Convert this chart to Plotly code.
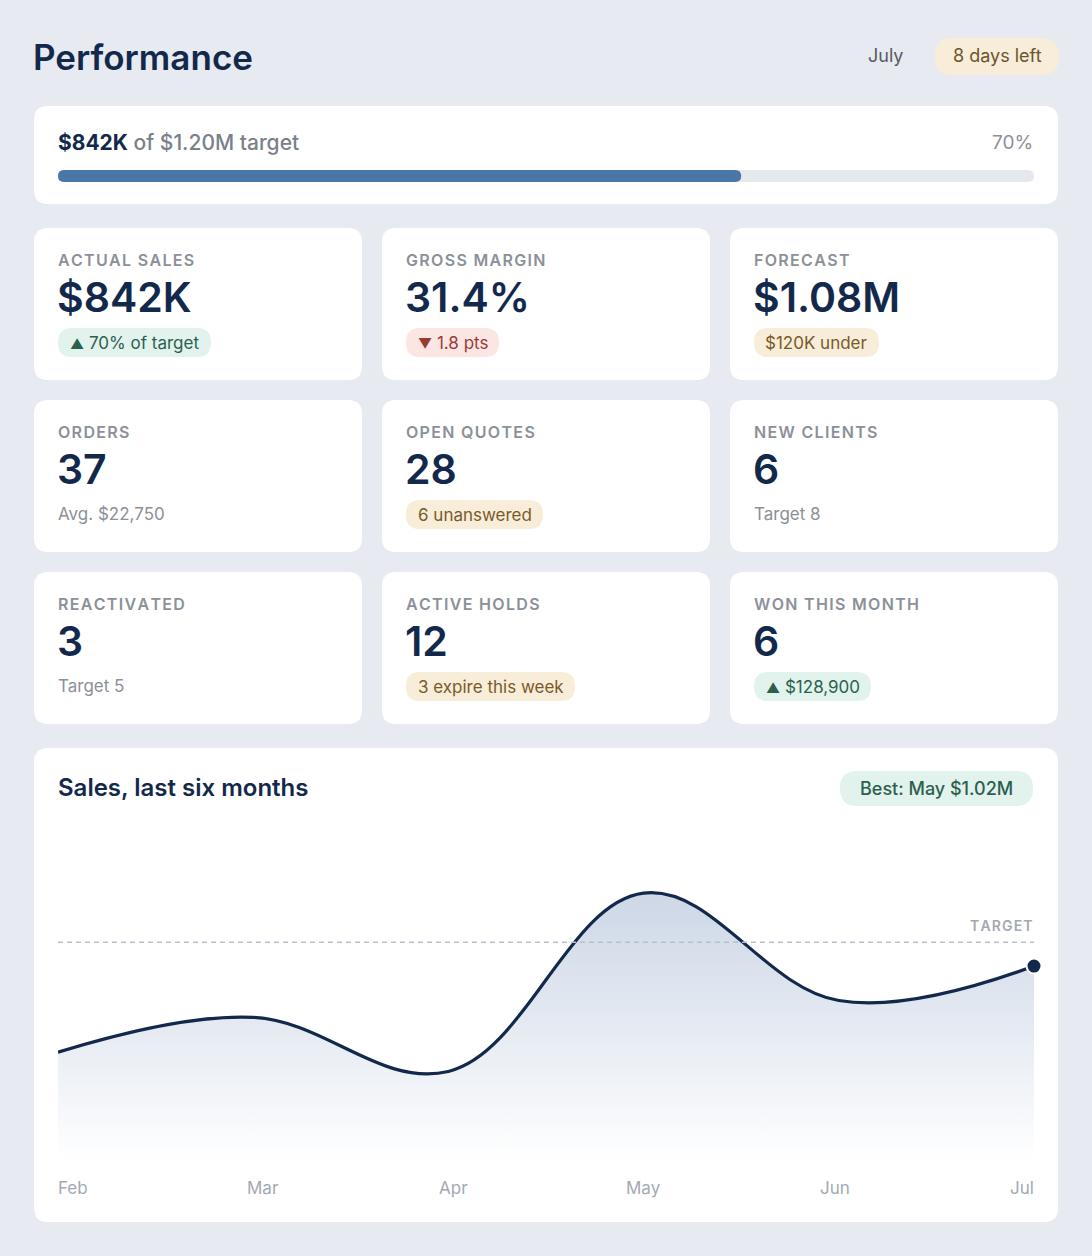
import plotly.graph_objects as go

W, H = 1092, 1256

months = ['Feb', 'Mar', 'Apr', 'May', 'Jun', 'Jul']
sales_m = [0.632, 0.717, 0.585, 1.02, 0.758, 0.842]
target_m = 0.90
y_floor, y_top = 0.369, 1.174

kpi_labels = ['ACTUAL SALES', 'GROSS MARGIN', 'FORECAST',
              'ORDERS', 'OPEN QUOTES', 'NEW CLIENTS',
              'REACTIVATED', 'ACTIVE HOLDS', 'WON THIS MONTH']
kpi_values = ['$842K', '31.4%', '$1.08M', '37', '28', '6', '3', '12', '6']
kpi_notes = ['▲ 70% of target', '▼ 1.8 pts', '$120K under',
             'Avg. $22,750', '6 unanswered', 'Target 8',
             'Target 5', '3 expire this week', '▲ $128,900']
kpi_note_kind = ['green', 'red', 'tan', None, 'tan', None, None, 'tan', 'green']
kpi_pill_w = [153, 93, 125, 0, 137, 0, 0, 169, 117]

progress_pct = 0.70

NAVY = '#13294b'
GRAY = '#8b9099'
PILLS = {'green': ('#e1f3ec', '#2d5f4f'),
         'red': ('#fbe6e4', '#9a3b33'),
         'tan': ('#f7edd8', '#7a5a2a')}
FONT = 'Inter'


def px(x):
    return x / W


def py(y):
    return 1 - y / H


shapes = []
annotations = []


def rrect(x0, y0, x1, y1, r, fill):
    path = (f'M {px(x0+r):.5f} {py(y0):.5f} L {px(x1-r):.5f} {py(y0):.5f} '
            f'Q {px(x1):.5f} {py(y0):.5f} {px(x1):.5f} {py(y0+r):.5f} '
            f'L {px(x1):.5f} {py(y1-r):.5f} Q {px(x1):.5f} {py(y1):.5f} {px(x1-r):.5f} {py(y1):.5f} '
            f'L {px(x0+r):.5f} {py(y1):.5f} Q {px(x0):.5f} {py(y1):.5f} {px(x0):.5f} {py(y1-r):.5f} '
            f'L {px(x0):.5f} {py(y0+r):.5f} Q {px(x0):.5f} {py(y0):.5f} {px(x0+r):.5f} {py(y0):.5f} Z')
    shapes.append(dict(type='path', path=path, xref='paper', yref='paper',
                       fillcolor=fill, line=dict(width=0), layer='below'))


def text(x, y, s, size, color, anchor='left', weight=400):
    annotations.append(dict(x=px(x), y=py(y), xref='paper', yref='paper', text=s,
                            showarrow=False, xanchor=anchor, yanchor='middle',
                            font=dict(family=FONT, size=size, color=color, weight=weight)))


# header
text(31, 57, 'Performance', 35, NAVY, weight=600)
text(905, 56, 'July', 18, '#555b66', anchor='right')
rrect(935, 38, 1059, 75, 18, '#f7edd8')
text(997, 56, '8 days left', 18, '#6b5530', anchor='center')

# progress card
rrect(34, 106, 1058, 204, 14, 'white')
text(56, 142, '<b>$842K</b> <span style="color:#7a808a">of $1.20M target</span>', 21, NAVY, weight=500)
text(1035, 142, '70%', 19, GRAY, anchor='right')
rrect(58, 170, 1034, 182, 6, '#e5e8ed')
rrect(58, 170, 58 + (1034 - 58) * progress_pct, 182, 6, '#4a76a8')

# KPI cards
cols = [34, 382, 730]
rows = [228, 400, 572]
for i, lab in enumerate(kpi_labels):
    x0 = cols[i % 3]
    y0 = rows[i // 3]
    rrect(x0, y0, x0 + 328, y0 + 152, 14, 'white')
    spaced = '\u200a'.join(lab)
    text(x0 + 22, y0 + 32, spaced, 16, GRAY, weight=600)
    text(x0 + 21, y0 + 69, kpi_values[i], 41, NAVY, weight=600)
    kind = kpi_note_kind[i]
    if kind:
        bg, fg = PILLS[kind]
        rrect(x0 + 24, y0 + 100, x0 + 24 + kpi_pill_w[i], y0 + 129, 14, bg)
        note = kpi_notes[i]
        if note[0] in '▲▼':
            note = f'<span style="font-size:14px">{note[0]}</span>{note[1:]}'
        text(x0 + 24 + kpi_pill_w[i] / 2, y0 + 115, note, 17, fg, anchor='center')
    else:
        text(x0 + 22, y0 + 114, kpi_notes[i], 17, GRAY)

# chart card
rrect(34, 748, 1058, 1222, 14, 'white')
text(56, 787, 'Sales, last six months', 24, NAVY, weight=600)
rrect(840, 771, 1033, 806, 17, '#e1f3ec')
text(936, 788, 'Best: May $1.02M', 18, '#2d5f4f', anchor='center', weight=500)
text(1035, 925, '\u200a'.join('TARGET'), 14, '#a3a8b1', anchor='right', weight=600)

shapes.append(dict(type='line', xref='x', yref='y', x0=0, x1=5, y0=target_m, y1=target_m,
                   line=dict(color='#b9bfcb', width=1.5, dash='5px,4px')))

label_x = [56, 263, 453, 643, 835, 1036]
for i, m in enumerate(months):
    anc = 'left' if i == 0 else ('right' if i == len(months) - 1 else 'center')
    text(label_x[i], 1188, m, 17, '#a3a9b3', anchor=anc)

fig = go.Figure(layout=dict(shapes=shapes, annotations=annotations))
fig.add_trace(go.Scatter(x=months, y=[y_floor] * len(months), mode='lines',
                         line=dict(width=0), hoverinfo='skip', showlegend=False))
fig.add_trace(go.Scatter(
    x=months, y=sales_m, mode='lines', line=dict(color=NAVY, width=3.2, shape='spline', smoothing=1.1),
    fill='tonexty',
    fillgradient=dict(type='vertical', colorscale=[[0, 'rgba(255,255,255,0.9)'], [1, 'rgba(196,208,226,0.85)']]),
    showlegend=False))
fig.add_trace(go.Scatter(x=[months[-1]], y=[sales_m[-1]], mode='markers',
                         marker=dict(size=15, color=NAVY, line=dict(color='white', width=2)),
                         showlegend=False, cliponaxis=False))

fig.update_layout(
    width=W, height=H, margin=dict(l=0, r=0, t=0, b=0),
    paper_bgcolor='#e7eaf0', plot_bgcolor='rgba(0,0,0,0)',
    xaxis=dict(domain=[px(58), px(1034)], range=[0, 5], visible=False, fixedrange=True),
    yaxis=dict(domain=[py(1160), py(830)], range=[y_floor, y_top], visible=False, fixedrange=True),
    font=dict(family=FONT),
)
fig.write_html('out.html', config={'displayModeBar': False},
               post_script="document.body.style.margin='0';")
